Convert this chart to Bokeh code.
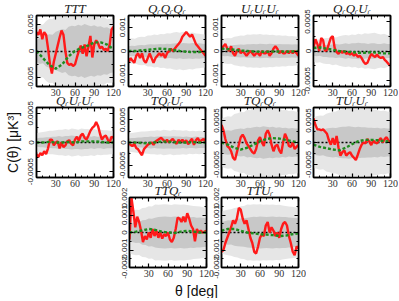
import math
from bokeh.plotting import figure
from bokeh.models import Range1d, FixedTicker, LinearAxis, Label, Spacer
from bokeh.layouts import row, column
from bokeh.embed import file_html
from bokeh.resources import INLINE

# ---------------- data ----------------
theta_red = list(range(0, 121, 3))      # 41 samples (measured curve)
theta_model = list(range(0, 121, 10))   # 13 samples (model curve)
theta_band = list(range(0, 121, 5))     # 25 samples (simulation bands)
zero_level = 0.0

x_major = [30, 60, 90, 120]
x_major_labels = ["30", "60", "90", "120"]
x_minor = [10, 20, 40, 50, 70, 80, 100, 110]

titles = ["TTT", "QᵣQᵣQᵣ", "UᵣUᵣUᵣ", "QᵣQᵣUᵣ",
          "QᵣUᵣUᵣ", "TQᵣUᵣ", "TQᵣQᵣ", "TUᵣUᵣ",
          "TTQᵣ", "TTUᵣ"]

# TTT
ttt_red = [0.0035, 0.0030, 0.0040, 0.0022, 0.0035, 0.0030, 0.0005, -0.0025, -0.0042, -0.0020,
           -0.0005, 0.0010, 0.0025, 0.0038, 0.0030, 0.0000, -0.0022, -0.0026, -0.0024, -0.0028,
           -0.0025, -0.0012, 0.0000, 0.0010, -0.0005, 0.0012, -0.0010, 0.0008, 0.0028, -0.0012,
           0.0012, 0.0020, 0.0014, 0.0005, 0.0008, 0.0002, 0.0004, 0.0000, 0.0012, 0.0040, 0.0045]
ttt_green = [0.0000, -0.0013, -0.0026, -0.0033, -0.0025, -0.0010, 0.0000, 0.0006, 0.0010,
             0.0016, 0.0016, 0.0012, 0.0003]
ttt_s1 = [0.0020, 0.0024, 0.0023, 0.0029, 0.0031, 0.0030, 0.0036, 0.0038, 0.0041, 0.0039, 0.0045, 0.0047, 0.0046,
          0.0049, 0.0047, 0.0050, 0.0048, 0.0046, 0.0048, 0.0045, 0.0046, 0.0043, 0.0044, 0.0041, 0.0040]
ttt_s2 = [0.0045, 0.0050, 0.0049, 0.0056, 0.0060, 0.0059, 0.0066, 0.0070, 0.0074, 0.0073, 0.0079, 0.0080, 0.0078,
          0.0076, 0.0077, 0.0072, 0.0070, 0.0066, 0.0067, 0.0063, 0.0062, 0.0063, 0.0059, 0.0060, 0.0058]

# QrQrQr
qqq_red = [-0.0005, -0.0003, -0.0004, -0.0005, -0.0002, -0.0001, -0.0003, -0.0001, -0.0004, -0.0005,
           -0.0003, -0.0001, -0.0003, -0.0005, -0.0003, -0.0002, -0.0001, -0.0002, -0.0001, -0.0003,
           -0.0001, 0.0000, 0.0001, 0.0000, 0.0001, 0.0002, 0.0003, 0.0004, 0.0006, 0.0007,
           0.0008, 0.0007, 0.0006, 0.0007, 0.0005, 0.0003, 0.0002, 0.0001, 0.0000, -0.0001, -0.0002]
qqq_green = [0.0, 0.0, 0.00003, 0.00005, 0.00008, 0.0001, 0.00008, 0.00004, 0.0, -0.00003, -0.00005, -0.00004, -0.00002]
qqq_s1 = [0.00020, 0.00022, 0.00021, 0.00024, 0.00025, 0.00024, 0.00027, 0.00028, 0.00027, 0.00029, 0.00030, 0.00029,
          0.00031, 0.00030, 0.00032, 0.00033, 0.00031, 0.00034, 0.00033, 0.00032, 0.00034, 0.00032, 0.00033, 0.00031, 0.00030]
qqq_s2 = [0.00050, 0.00054, 0.00052, 0.00058, 0.00060, 0.00059, 0.00065, 0.00066, 0.00070, 0.00068, 0.00072, 0.00071,
          0.00075, 0.00074, 0.00078, 0.00080, 0.00077, 0.00081, 0.00079, 0.00076, 0.00078, 0.00074, 0.00073, 0.00071, 0.00070]

# UrUrUr
uuu_red = [0.0001, 0.0002, 0.0003, 0.0001, 0.0000, 0.0002, -0.0001, -0.0002, 0.0000, 0.0001,
           -0.0001, 0.0000, -0.0001, -0.0002, -0.0001, 0.0000, -0.0001, -0.0002, -0.0001, -0.0001,
           -0.0002, 0.0000, -0.0001, -0.0001, 0.0000, -0.0002, -0.0001, 0.0001, 0.0002, 0.0001,
           -0.0001, 0.0000, -0.0001, -0.0001, 0.0000, -0.0001, 0.0000, -0.0001, 0.0000, -0.0001, -0.0002]
uuu_green = [0.0001, 0.00008, 0.00005, 0.00002, 0.0, -0.00002, -0.00003, -0.00003, -0.00002, -0.00002, -0.00003, -0.00002, 0.0]
uuu_s1 = [0.00020, 0.00022, 0.00021, 0.00024, 0.00025, 0.00026, 0.00027, 0.00026, 0.00028, 0.00029, 0.00030, 0.00029,
          0.00031, 0.00030, 0.00029, 0.00031, 0.00030, 0.00029, 0.00030, 0.00028, 0.00029, 0.00028, 0.00027, 0.00028, 0.00027]
uuu_s2 = [0.00050, 0.00053, 0.00055, 0.00054, 0.00060, 0.00062, 0.00065, 0.00064, 0.00070, 0.00069, 0.00071, 0.00070,
          0.00072, 0.00069, 0.00070, 0.00068, 0.00069, 0.00066, 0.00067, 0.00064, 0.00065, 0.00062, 0.00063, 0.00061, 0.00060]

# QrQrUr
qqu_red = [0.00005, 0.00020, 0.00012, 0.00000, 0.00022, 0.00018, 0.00000, 0.00002, 0.00012, 0.00022,
           0.00025, 0.00005, -0.00002, -0.00005, 0.00000, -0.00003, 0.00000, -0.00005, -0.00003, -0.00006,
           -0.00004, -0.00008, -0.00005, -0.00010, -0.00008, -0.00012, -0.00018, -0.00022, -0.00020, -0.00012,
           -0.00005, -0.00008, -0.00010, -0.00006, -0.00010, -0.00012, -0.00010, -0.00015, -0.00018, -0.00022, -0.00025]
qqu_green = [0.00005, 0.00006, 0.00004, 0.00002, 0.0, -0.00001, -0.00002, -0.00003, -0.00003, -0.00002, -0.00003, -0.00004, -0.00004]
qqu_s1 = [0.00008, 0.00009, 0.00008, 0.00010, 0.00010, 0.00011, 0.00011, 0.00012, 0.00011, 0.00012, 0.00013, 0.00012,
          0.00013, 0.00013, 0.00014, 0.00013, 0.00013, 0.00012, 0.00013, 0.00013, 0.00012, 0.00012, 0.00013, 0.00012, 0.00012]
qqu_s2 = [0.00018, 0.00020, 0.00019, 0.00021, 0.00022, 0.00022, 0.00024, 0.00023, 0.00025, 0.00026, 0.00027, 0.00026,
          0.00028, 0.00027, 0.00029, 0.00028, 0.00030, 0.00029, 0.00030, 0.00031, 0.00029, 0.00028, 0.00029, 0.00027, 0.00027]

# QrUrUr
quu_red = [-0.00020, -0.00025, -0.00018, -0.00022, -0.00015, -0.00020, -0.00010, 0.00005, 0.00005, -0.00005,
           0.00000, 0.00002, -0.00010, 0.00000, -0.00008, -0.00005, 0.00002, 0.00004, -0.00002, -0.00005,
           0.00005, 0.00010, 0.00003, 0.00012, 0.00015, 0.00008, 0.00005, 0.00012, 0.00020, 0.00025,
           0.00028, 0.00035, 0.00028, 0.00015, 0.00005, 0.00010, 0.00012, 0.00005, 0.00000, 0.00010, 0.00008]
quu_green = [0.0, 0.0, 0.00001, 0.0, 0.0, 0.00001, 0.0, 0.00002, 0.00002, 0.00002, 0.00001, 0.0, 0.0]
quu_s1 = [0.00007, 0.00008, 0.00008, 0.00009, 0.00009, 0.00010, 0.00010, 0.00011, 0.00010, 0.00011, 0.00011, 0.00012,
          0.00011, 0.00011, 0.00012, 0.00011, 0.00011, 0.00010, 0.00011, 0.00010, 0.00010, 0.00011, 0.00010, 0.00010, 0.00010]
quu_s2 = [0.00016, 0.00017, 0.00018, 0.00019, 0.00020, 0.00020, 0.00021, 0.00022, 0.00022, 0.00023, 0.00022, 0.00024,
          0.00023, 0.00022, 0.00024, 0.00023, 0.00023, 0.00022, 0.00023, 0.00021, 0.00022, 0.00021, 0.00021, 0.00020, 0.00020]

# TQrUr
tqu_red = [0.00000, -0.00005, -0.00008, -0.00003, -0.00012, -0.00015, -0.00022, -0.00028, -0.00015, -0.00010,
           -0.00005, -0.00002, 0.00000, -0.00005, 0.00002, 0.00005, 0.00008, 0.00010, 0.00006, 0.00002,
           0.00006, 0.00000, 0.00004, 0.00008, 0.00002, -0.00003, 0.00006, 0.00002, 0.00006, 0.00000,
           0.00005, -0.00004, 0.00003, 0.00008, -0.00005, 0.00005, 0.00010, 0.00002, 0.00005, 0.00008, 0.00000]
tqu_green = [0.0, 0.0, -0.00001, -0.00002, 0.0, 0.00002, 0.00002, 0.00001, 0.0, 0.0, 0.00001, 0.0, 0.0]
tqu_s1 = [0.00009, 0.00010, 0.00010, 0.00011, 0.00011, 0.00012, 0.00012, 0.00013, 0.00012, 0.00013, 0.00013, 0.00014,
          0.00013, 0.00013, 0.00014, 0.00013, 0.00013, 0.00012, 0.00013, 0.00012, 0.00012, 0.00013, 0.00012, 0.00012, 0.00012]
tqu_s2 = [0.00020, 0.00021, 0.00022, 0.00023, 0.00024, 0.00024, 0.00025, 0.00026, 0.00026, 0.00027, 0.00026, 0.00028,
          0.00027, 0.00026, 0.00028, 0.00027, 0.00027, 0.00026, 0.00027, 0.00025, 0.00026, 0.00025, 0.00026, 0.00025, 0.00025]

# TQrQr
tqq_red = [0.00040, 0.00028, 0.00008, -0.00008, -0.00012, -0.00020, -0.00035, -0.00040, -0.00022, -0.00005,
           0.00012, 0.00018, 0.00010, -0.00002, -0.00008, -0.00015, -0.00022, -0.00025, -0.00015, 0.00005,
           0.00012, 0.00000, -0.00008, 0.00020, 0.00028, 0.00018, -0.00005, -0.00020, -0.00008, -0.00005,
           -0.00018, -0.00025, 0.00000, 0.00020, 0.00010, -0.00008, -0.00010, 0.00000, -0.00015, -0.00010, -0.00005]
tqq_green = [0.0, -0.00005, -0.00012, -0.00016, -0.00012, -0.00005, 0.00003, 0.00008, 0.0001, 0.00009, 0.00006, 0.00003, 0.0]
tqq_s1 = [0.00025, 0.00027, 0.00028, 0.00027, 0.00030, 0.00031, 0.00032, 0.00031, 0.00034, 0.00033, 0.00035, 0.00036,
          0.00035, 0.00037, 0.00036, 0.00035, 0.00036, 0.00034, 0.00035, 0.00033, 0.00034, 0.00032, 0.00033, 0.00032, 0.00032]
tqq_s2 = [0.00055, 0.00058, 0.00060, 0.00059, 0.00065, 0.00067, 0.00070, 0.00069, 0.00075, 0.00074, 0.00080, 0.00079,
          0.00081, 0.00080, 0.00078, 0.00080, 0.00079, 0.00076, 0.00077, 0.00074, 0.00075, 0.00072, 0.00073, 0.00071, 0.00070]

# TUrUr
tuu_red = [0.00055, 0.00040, 0.00030, 0.00030, 0.00028, 0.00030, 0.00025, 0.00020, 0.00005, -0.00005,
           0.00010, -0.00005, 0.00015, -0.00012, -0.00030, -0.00022, -0.00018, -0.00030, -0.00025, -0.00022,
           -0.00030, -0.00035, -0.00040, -0.00028, -0.00015, -0.00005, 0.00000, -0.00002, 0.00008, 0.00002,
           -0.00006, 0.00004, 0.00000, -0.00002, 0.00005, 0.00010, 0.00000, 0.00008, 0.00012, 0.00004, 0.00000]
tuu_green = [-0.00005, -0.0001, -0.00013, -0.00016, -0.00018, -0.00012, -0.00004, 0.00003, 0.00006, 0.00006, 0.00005, 0.00003, 0.00002]
tuu_s1 = [0.00028, 0.00029, 0.00030, 0.00029, 0.00032, 0.00033, 0.00034, 0.00033, 0.00035, 0.00036, 0.00036, 0.00037,
          0.00036, 0.00035, 0.00036, 0.00035, 0.00035, 0.00034, 0.00034, 0.00033, 0.00034, 0.00032, 0.00033, 0.00032, 0.00032]
tuu_s2 = [0.00058, 0.00060, 0.00062, 0.00061, 0.00066, 0.00068, 0.00070, 0.00071, 0.00075, 0.00076, 0.00078, 0.00077,
          0.00080, 0.00081, 0.00080, 0.00078, 0.00078, 0.00077, 0.00076, 0.00075, 0.00074, 0.00072, 0.00073, 0.00071, 0.00070]

# TTQr
ttq_red = [-0.00040, 0.00200, 0.00120, 0.00030, 0.00090, 0.00060, 0.00010, -0.00055, -0.00020, -0.00040,
           0.00000, -0.00030, 0.00020, -0.00020, 0.00010, -0.00030, 0.00000, -0.00035, -0.00010, -0.00020,
           0.00000, -0.00040, -0.00055, -0.00030, 0.00020, 0.00085, 0.00080, 0.00060, 0.00090, 0.00060,
           0.00110, 0.00080, 0.00040, 0.00020, -0.00050, 0.00020, 0.00000, 0.00010, 0.00000, 0.00005, 0.00010]
ttq_green = [0.0, 0.00005, 0.00012, 0.0002, 0.00015, 0.00005, 0.0, -0.00003, 0.00005, 0.0001, 0.00005, 0.0, 0.0]
ttq_s1 = [0.00050, 0.00055, 0.00060, 0.00058, 0.00070, 0.00072, 0.00080, 0.00078, 0.00085, 0.00088, 0.00090, 0.00092,
          0.00090, 0.00088, 0.00091, 0.00090, 0.00089, 0.00091, 0.00090, 0.00087, 0.00088, 0.00085, 0.00086, 0.00083, 0.00082]
ttq_s2 = [0.00120, 0.00125, 0.00130, 0.00128, 0.00140, 0.00142, 0.00150, 0.00148, 0.00160, 0.00158, 0.00160, 0.00162,
          0.00160, 0.00157, 0.00161, 0.00160, 0.00158, 0.00160, 0.00157, 0.00155, 0.00152, 0.00150, 0.00148, 0.00145, 0.00140]

# TTUr
ttu_red = [-0.00110, -0.00100, -0.00060, -0.00030, 0.00000, 0.00030, 0.00070, 0.00050, 0.00080, 0.00140,
           0.00130, 0.00080, 0.00050, 0.00070, 0.00020, -0.00030, -0.00060, -0.00110, -0.00120, -0.00080,
           -0.00030, -0.00010, -0.00020, 0.00040, 0.00060, 0.00000, 0.00030, 0.00010, -0.00020, 0.00000,
           -0.00030, 0.00020, 0.00050, 0.00060, 0.00040, -0.00020, -0.00060, -0.00110, -0.00130, -0.00080, -0.00090]
ttu_green = [0.0001, 0.0002, 0.0002, 0.0001, 0.0, -0.00005, -0.0001, -0.00012, -0.00015, -0.0002, -0.00018, -0.0001, -0.00005]
ttu_s1 = [0.00060, 0.00065, 0.00070, 0.00068, 0.00075, 0.00078, 0.00080, 0.00082, 0.00085, 0.00087, 0.00090, 0.00089,
          0.00091, 0.00090, 0.00088, 0.00090, 0.00091, 0.00089, 0.00090, 0.00088, 0.00088, 0.00086, 0.00085, 0.00083, 0.00082]
ttu_s2 = [0.00120, 0.00126, 0.00130, 0.00133, 0.00140, 0.00143, 0.00150, 0.00152, 0.00160, 0.00158, 0.00161, 0.00160,
          0.00162, 0.00159, 0.00160, 0.00158, 0.00160, 0.00157, 0.00158, 0.00154, 0.00152, 0.00149, 0.00147, 0.00144, 0.00140]

# y axes: half-range, major ticks, tick labels
ylim = [0.0066, 0.0015, 0.0015, 0.0006, 0.0006, 0.00077, 0.0008, 0.0008, 0.002, 0.002]
yticks_005 = [-0.005, 0, 0.005]
ylabels_005 = ["-0.005", "0", "0.005"]
yticks_001 = [-0.001, 0, 0.001]
ylabels_001 = ["-0.001", "0", "0.001"]
yticks_0005 = [-0.0005, 0, 0.0005]
ylabels_0005 = ["-0.0005", "0", "0.0005"]
yticks_002 = [-0.002, -0.001, 0, 0.001, 0.002]
ylabels_002 = ["-0.002", "-0.001", "0", "0.001", "0.002"]

panel_data = [
    (ttt_red, ttt_green, ttt_s1, ttt_s2, yticks_005, ylabels_005),
    (qqq_red, qqq_green, qqq_s1, qqq_s2, yticks_001, ylabels_001),
    (uuu_red, uuu_green, uuu_s1, uuu_s2, yticks_001, ylabels_001),
    (qqu_red, qqu_green, qqu_s1, qqu_s2, yticks_0005, ylabels_0005),
    (quu_red, quu_green, quu_s1, quu_s2, yticks_0005, ylabels_0005),
    (tqu_red, tqu_green, tqu_s1, tqu_s2, yticks_0005, ylabels_0005),
    (tqq_red, tqq_green, tqq_s1, tqq_s2, yticks_0005, ylabels_0005),
    (tuu_red, tuu_green, tuu_s1, tuu_s2, yticks_0005, ylabels_0005),
    (ttq_red, ttq_green, ttq_s1, ttq_s2, yticks_002, ylabels_002),
    (ttu_red, ttu_green, ttu_s1, ttu_s2, yticks_002, ylabels_002),
]

# ---------------- style ----------------
LIGHT = "#e6e6e6"
DARK = "#c8c8c8"
RED = "#ff1a1a"
GREEN = "#1f8c1f"
FW = 77
LB, RB, TB, BB = 14, 8, 18, 15


def make_panel(i, fh):
    red, green, s1, s2, yt, yl = panel_data[i]
    lim = ylim[i]
    p = figure(width=LB + FW + RB, height=TB + fh + BB, sizing_mode="fixed",
               x_range=Range1d(0, 120), y_range=Range1d(-lim, lim),
               output_backend="svg", toolbar_location=None, title=titles[i],
               min_border_left=LB, min_border_right=RB, min_border_top=TB, min_border_bottom=BB,
               border_fill_color=None, background_fill_color="white",
               outline_line_color="black", outline_line_width=1.5)
    p.title.align = "center"
    p.title.standoff = 0
    p.title.text_font = "Liberation Serif"
    p.title.text_font_style = "italic"
    p.title.text_font_size = "13px"
    p.title.text_color = "#222222"
    p.grid.visible = False
    p.varea(x=theta_band, y1=[-v for v in s2], y2=s2, fill_color=LIGHT)
    p.varea(x=theta_band, y1=[-v for v in s1], y2=s1, fill_color=DARK)
    p.hspan(y=[zero_level], line_color="black", line_width=1.5, line_dash="2 2")
    p.line(theta_red, red, line_color=RED, line_width=2.4)
    p.line(theta_model, green, line_color=GREEN, line_width=2.4, line_dash="3 2")

    p.add_layout(LinearAxis(), "above")
    p.add_layout(LinearAxis(), "right")
    xt = FixedTicker(ticks=x_major, minor_ticks=x_minor)
    ymin = [(yt[k] + yt[k + 1]) / 2 for k in range(len(yt) - 1)]
    ytk = FixedTicker(ticks=yt, minor_ticks=ymin)
    for ax in p.axis:
        ax.major_tick_in = 4
        ax.major_tick_out = 0
        ax.minor_tick_in = 2
        ax.minor_tick_out = 0
        ax.axis_line_color = "black"
        ax.axis_line_width = 1.5
        ax.major_tick_line_color = "black"
        ax.minor_tick_line_color = "black"
        ax.major_tick_line_width = 1.2
        ax.minor_tick_line_width = 1.0
    for ax in p.above + p.below:
        ax.ticker = xt
    for ax in p.left + p.right:
        ax.ticker = ytk
    for ax in list(p.above) + list(p.right):
        ax.major_label_text_font_size = "1px"
        ax.major_label_text_color = None
        ax.major_label_standoff = 0
    bx = p.below[0]
    bx.major_label_overrides = dict(zip(x_major, x_major_labels))
    bx.major_label_text_font = "Liberation Serif"
    bx.major_label_text_font_size = "10px"
    bx.major_label_text_color = "#333333"
    bx.major_label_standoff = 2
    ly = p.left[0]
    ly.major_label_overrides = dict(zip(yt, yl))
    ly.major_label_orientation = "vertical"
    ly.major_label_text_font = "Liberation Sans"
    ly.major_label_text_font_size = "8px"
    ly.major_label_text_color = "#222222"
    ly.major_label_standoff = 3
    return p


# frame heights of the three rows
FH = [71, 70, 70]

row1 = [make_panel(k, FH[0]) for k in range(0, 4)]
row2 = [make_panel(k, FH[1]) for k in range(4, 8)]
row3 = [make_panel(k, FH[2]) for k in range(8, 10)]

for rw in (row1, row2):
    rw[1].margin = (0, 0, 0, -7)
    rw[2].margin = (0, 0, 0, -6)
    rw[3].margin = (0, 0, 0, -7)
row3[1].margin = (0, 0, 0, -7)

r1 = row(row1, spacing=0)
r1.margin = (-3, 0, 0, 0)
r2 = row(row2, spacing=0)
r2.margin = (-12, 0, 0, 0)
r3 = row([Spacer(width=93, height=10)] + row3, spacing=0)
r3.margin = (-13, 0, 0, 0)

xl = figure(width=376, height=16, sizing_mode="fixed", output_backend="svg", toolbar_location=None,
            title=None, min_border=0, x_axis_type=None, y_axis_type=None, outline_line_color=None,
            border_fill_color=None, background_fill_color=None)
xl.grid.visible = False
xl.add_layout(Label(x=174, y=8, x_units="screen", y_units="screen", text="θ [deg]",
                    text_align="center", text_baseline="middle",
                    text_font="Liberation Sans", text_font_size="14px", text_color="#111111"))

grid = column([r1, r2, r3, xl], spacing=0)

YLH = 298
yl = figure(width=22, height=YLH, sizing_mode="fixed", output_backend="svg", toolbar_location=None,
            title=None, min_border=0, x_axis_type=None, y_axis_type=None, outline_line_color=None,
            border_fill_color=None, background_fill_color=None)
yl.grid.visible = False
yl.add_layout(Label(x=12.5, y=YLH - 142, x_units="screen", y_units="screen", text="C(θ) [μK³]",
                    angle=math.pi / 2, text_align="center", text_baseline="middle",
                    text_font="Liberation Sans", text_font_size="14px", text_color="#111111"))

layout = row([yl, grid], spacing=0)

open("out.html", "w").write(file_html(layout, INLINE))
